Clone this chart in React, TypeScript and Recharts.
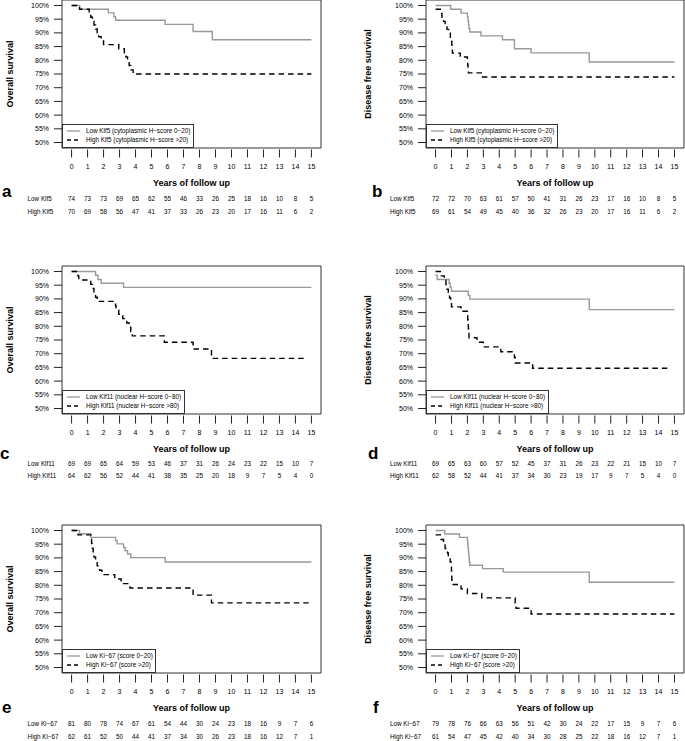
import React from "react";
import { LineChart, Line, XAxis, YAxis, ReferenceArea, Legend, Label } from "recharts";

const FONT = '"Liberation Sans", Arial, Helvetica, sans-serif';
const GREY = "#999999";

const years = [0, 1, 2, 3, 4, 5, 6, 7, 8, 9, 10, 11, 12, 13, 14, 15];
const survivalTicks = [50, 55, 60, 65, 70, 75, 80, 85, 90, 95, 100];

// Kaplan-Meier steps: [years, survival %]
const aLowSteps = [[0, 100], [0.5, 98.6], [2.3, 97.3], [2.65, 95.9], [2.75, 94.6], [5.85, 93.1], [7.6, 90.5], [8.8, 87.5], [15, 87.5]];
const aHighSteps = [[0, 100], [0.5, 98.6], [1.1, 97.1], [1.2, 95.7], [1.3, 94.3], [1.4, 92.9], [1.5, 91.4], [1.6, 90.0], [1.7, 88.6], [1.85, 87.1], [2.0, 85.7], [2.95, 84.2], [3.3, 82.7], [3.4, 81.2], [3.5, 79.6], [3.6, 78.1], [3.7, 76.5], [3.85, 75.0], [15, 75.0]];
const bLowSteps = [[0, 100], [0.95, 98.6], [1.6, 97.2], [2.0, 95.8], [2.04, 94.4], [2.07, 93.0], [2.1, 91.6], [2.15, 90.3], [2.85, 88.9], [4.2, 87.5], [4.95, 84.2], [6.0, 82.7], [9.65, 79.4], [15, 79.4]];
const bHighSteps = [[0, 98.6], [0.3, 97.1], [0.4, 95.7], [0.5, 94.2], [0.6, 92.8], [0.72, 91.3], [0.82, 89.9], [0.93, 88.4], [1.0, 87.0], [1.02, 85.5], [1.04, 84.1], [1.06, 82.6], [1.55, 81.2], [2.0, 79.7], [2.02, 78.3], [2.04, 76.8], [2.06, 75.4], [2.95, 73.9], [15, 73.9]];
const cLowSteps = [[0, 100], [1.5, 98.6], [1.65, 97.1], [1.85, 95.7], [3.25, 94.2], [15, 94.2]];
const cHighSteps = [[0, 100], [0.4, 98.4], [0.45, 96.9], [1.2, 95.3], [1.3, 93.8], [1.4, 92.2], [1.5, 90.6], [1.6, 89.1], [2.75, 87.5], [2.78, 85.9], [2.95, 84.4], [3.2, 82.8], [3.45, 81.2], [3.6, 79.7], [3.7, 78.1], [3.8, 76.5], [5.8, 74.2], [7.6, 71.7], [8.75, 68.3], [14.6, 68.3]];
const dLowSteps = [[0, 98.6], [0.1, 97.1], [0.85, 95.7], [0.92, 94.2], [1.0, 92.8], [2.05, 91.3], [2.15, 89.9], [9.65, 86.1], [15, 86.1]];
const dHighSteps = [[0, 100], [0.35, 98.4], [0.55, 96.8], [0.65, 95.2], [0.72, 93.5], [0.8, 91.9], [0.88, 90.3], [0.95, 88.7], [1.0, 87.1], [1.6, 85.5], [2.0, 83.9], [2.02, 82.3], [2.04, 80.6], [2.06, 79.0], [2.08, 77.4], [2.1, 75.8], [2.6, 74.2], [3.0, 72.5], [4.1, 70.7], [4.95, 68.7], [5.0, 66.6], [6.1, 64.7], [14.6, 64.7]];
const eLowSteps = [[0, 100], [0.5, 98.8], [1.2, 97.5], [2.75, 96.3], [2.85, 95.1], [3.25, 93.8], [3.35, 92.6], [3.5, 91.4], [3.7, 90.1], [5.85, 88.5], [15, 88.5]];
const eHighSteps = [[0, 100], [0.4, 98.4], [1.2, 96.8], [1.25, 95.2], [1.3, 93.5], [1.35, 91.9], [1.4, 90.3], [1.5, 88.7], [1.6, 87.1], [1.75, 85.5], [1.9, 83.9], [2.7, 82.3], [3.1, 80.6], [3.65, 79.0], [7.6, 76.4], [8.75, 73.6], [15, 73.6]];
const fLowSteps = [[0, 100], [0.58, 98.7], [1.5, 97.5], [2.0, 96.2], [2.02, 94.9], [2.04, 93.7], [2.06, 92.4], [2.08, 91.1], [2.1, 89.9], [2.12, 88.6], [2.15, 87.3], [2.95, 86.1], [4.25, 84.8], [9.65, 81.1], [15, 81.1]];
const fHighSteps = [[0, 98.4], [0.3, 96.7], [0.5, 95.1], [0.6, 93.4], [0.75, 91.8], [0.8, 90.2], [0.92, 88.5], [0.98, 86.9], [1.0, 85.2], [1.01, 83.6], [1.02, 82.0], [1.03, 80.3], [1.6, 78.7], [2.0, 77.0], [2.9, 75.4], [5.0, 73.5], [5.05, 71.6], [6.0, 69.5], [15, 69.5]];

// numbers at risk, one per year 0..15
const aLowRisk = [74, 73, 73, 69, 65, 62, 55, 46, 33, 26, 25, 18, 16, 10, 8, 5];
const aHighRisk = [70, 69, 58, 56, 47, 41, 37, 33, 26, 23, 20, 17, 16, 11, 6, 2];
const bLowRisk = [72, 72, 70, 63, 61, 57, 50, 41, 31, 26, 23, 17, 16, 10, 8, 5];
const bHighRisk = [69, 61, 54, 49, 45, 40, 36, 32, 26, 23, 20, 17, 16, 11, 6, 2];
const cLowRisk = [69, 69, 65, 64, 59, 53, 46, 37, 31, 26, 24, 23, 22, 15, 10, 7];
const cHighRisk = [64, 62, 56, 52, 44, 41, 38, 35, 25, 20, 18, 9, 7, 5, 4, 0];
const dLowRisk = [69, 65, 63, 60, 57, 52, 45, 37, 31, 26, 23, 22, 21, 15, 10, 7];
const dHighRisk = [62, 58, 52, 44, 41, 37, 34, 30, 23, 19, 17, 9, 7, 5, 4, 0];
const eLowRisk = [81, 80, 78, 74, 67, 61, 54, 44, 30, 24, 23, 18, 16, 9, 7, 6];
const eHighRisk = [62, 61, 52, 50, 44, 41, 37, 34, 30, 26, 23, 18, 16, 12, 7, 1];
const fLowRisk = [79, 78, 76, 66, 63, 56, 51, 42, 30, 24, 22, 17, 15, 9, 7, 6];
const fHighRisk = [61, 54, 47, 45, 42, 40, 34, 30, 28, 25, 22, 18, 16, 12, 7, 1];

const klf5Names = ["Low Klf5 (cytoplasmic H\u2212score 0\u221220)", "High Klf5 (cytoplasmic H\u2212score >20)"];
const klf11Names = ["Low Klf11 (nuclear H\u2212score 0\u221280)", "High Klf11 (nuclear H\u2212score >80)"];
const ki67Names = ["Low Ki\u221267 (score 0\u221220)", "High Ki\u221267 (score >20)"];
const klf5Rows = ["Low Klf5", "High Klf5"];
const klf11Rows = ["Low Klf11", "High Klf11"];
const ki67Rows = ["Low Ki\u221267", "High Ki\u221267"];

const toPoints = (steps: number[][]) => steps.map(([t, s]) => ({ t, s }));

const TOP = 10;
const PLOT_H = 148;
const AXIS_H = 75;
const Y_AXIS_W = 50;
const X_DOMAIN = [-0.6, 15.6];
const Y_DOMAIN = [48, 102];

const col1 = { left: 0, width: 340, mLeft: 12, mRight: 19, yLabelX: 10, rowDx: -44 };
const col2 = { left: 340, width: 345, mLeft: 36, mRight: 1, yLabelX: 28, rowDx: -45.5 };

const panels = [
  { ...col1, top: 0.2 - TOP, letter: "a", lx: 2, lb: 197, yLabel: "Overall survival", low: aLowSteps, high: aHighSteps, lowRisk: aLowRisk, highRisk: aHighRisk, names: klf5Names, rows: klf5Rows, legendW: 132, riskDy: [50.8, 63.8] },
  { ...col2, top: 0.2 - TOP, letter: "b", lx: 372, lb: 197, yLabel: "Disease free survival", low: bLowSteps, high: bHighSteps, lowRisk: bLowRisk, highRisk: bHighRisk, names: klf5Names, rows: klf5Rows, legendW: 132, riskDy: [50.8, 63.8] },
  { ...col1, top: 266.2 - TOP, letter: "c", lx: 0, lb: 459, yLabel: "Overall survival", low: cLowSteps, high: cHighSteps, lowRisk: cLowRisk, highRisk: cHighRisk, names: klf11Names, rows: klf11Rows, legendW: 123, riskDy: [49.8, 61.5] },
  { ...col2, top: 266.2 - TOP, letter: "d", lx: 368, lb: 459, yLabel: "Disease free survival", low: dLowSteps, high: dHighSteps, lowRisk: dLowRisk, highRisk: dHighRisk, names: klf11Names, rows: klf11Rows, legendW: 123, riskDy: [49.8, 61.5] },
  { ...col1, top: 525.2 - TOP, letter: "e", lx: 2, lb: 713, yLabel: "Overall survival", low: eLowSteps, high: eHighSteps, lowRisk: eLowRisk, highRisk: eHighRisk, names: ki67Names, rows: ki67Rows, legendW: 94, riskDy: [50.8, 63.8] },
  { ...col2, top: 525.2 - TOP, letter: "f", lx: 373, lb: 713, yLabel: "Disease free survival", low: fLowSteps, high: fHighSteps, lowRisk: fLowRisk, highRisk: fHighRisk, names: ki67Names, rows: ki67Rows, legendW: 94, riskDy: [50.8, 63.8] },
];

function FollowUpTick({ x, y, payload, panel }: any) {
  const i = years.indexOf(payload.value);
  const [r1, r2] = panel.riskDy;
  return (
    <g fontFamily={FONT}>
      <line x1={x} x2={x} y1={y + 1.5} y2={y + 9.5} stroke="#222" strokeWidth={1} />
      <text x={x} y={y + 19} dy="0.35em" textAnchor="middle" fontSize={7} fill="#000">
        {payload.value}
      </text>
      <text x={x} y={y + r1} dy="0.35em" textAnchor="middle" fontSize={6.3} fill="#000">
        {panel.lowRisk[i]}
      </text>
      <text x={x} y={y + r2} dy="0.35em" textAnchor="middle" fontSize={6.3} fill="#000">
        {panel.highRisk[i]}
      </text>
      {i === 0 && (
        <>
          <text x={x + panel.rowDx} y={y + r1} dy="0.35em" fontSize={6.3} fill="#000">
            {panel.rows[0]}
          </text>
          <text x={x + panel.rowDx} y={y + r2} dy="0.35em" fontSize={6.3} fill="#000">
            {panel.rows[1]}
          </text>
        </>
      )}
    </g>
  );
}

function KmLegend({ names, w }: { names: string[]; w: number }) {
  return (
    <div style={{ width: w, height: 24, border: "1px solid #333", boxSizing: "border-box", background: "#fff", position: "relative" }}>
      <svg width={w - 2} height={22} style={{ position: "absolute", left: 0, top: 0 }}>
        <line x1={4} x2={17} y1={6} y2={6} stroke={GREY} strokeWidth={1.3} />
        <line x1={4} x2={17} y1={15} y2={15} stroke="#000" strokeWidth={1.3} strokeDasharray="4 3" />
        <text x={23} y={6} dy="0.35em" fontSize={6.3} fontFamily={FONT} fill="#000">{names[0]}</text>
        <text x={23} y={15} dy="0.35em" fontSize={6.3} fontFamily={FONT} fill="#000">{names[1]}</text>
      </svg>
    </div>
  );
}

function KmPanel({ panel }: { panel: any }) {
  const plotLeft = panel.mLeft + Y_AXIS_W;
  const plotW = panel.width - plotLeft - panel.mRight;
  return (
    <div style={{ position: "absolute", left: panel.left, top: panel.top }}>
      <LineChart
        width={panel.width}
        height={TOP + PLOT_H + AXIS_H}
        margin={{ top: TOP, right: panel.mRight, bottom: 0, left: panel.mLeft }}
        style={{ fontFamily: FONT }}
      >
        <ReferenceArea x1={X_DOMAIN[0]} x2={X_DOMAIN[1]} y1={Y_DOMAIN[0]} y2={Y_DOMAIN[1]} fill="none" stroke="#333" strokeWidth={1} />
        <XAxis
          type="number"
          dataKey="t"
          domain={X_DOMAIN}
          ticks={years}
          interval={0}
          allowDataOverflow
          axisLine={false}
          tickLine={false}
          tickSize={0}
          tickMargin={0}
          height={AXIS_H}
          tick={(tp: any) => <FollowUpTick {...tp} panel={panel} />}
        >
          <Label
            content={() => (
              <text x={plotLeft + plotW / 2} y={TOP + PLOT_H + 34.5} dy="0.35em" textAnchor="middle" fontSize={9} fontWeight="bold" fontFamily={FONT} fill="#000">
                Years of follow up
              </text>
            )}
          />
        </XAxis>
        <YAxis
          type="number"
          domain={Y_DOMAIN}
          ticks={survivalTicks}
          interval={0}
          allowDataOverflow
          width={Y_AXIS_W}
          axisLine={false}
          tickSize={8}
          tickMargin={5}
          tickLine={{ stroke: "#222" }}
          tick={{ fontSize: 7, fill: "#000", fontFamily: FONT }}
          tickFormatter={(v: number) => `${v}%`}
        >
          <Label
            content={() => {
              const cy = TOP + PLOT_H / 2;
              return (
                <text
                  x={panel.yLabelX}
                  y={cy}
                  dy="0.35em"
                  transform={`rotate(-90, ${panel.yLabelX}, ${cy})`}
                  textAnchor="middle"
                  fontSize={9}
                  fontWeight="bold"
                  fontFamily={FONT}
                  fill="#000"
                >
                  {panel.yLabel}
                </text>
              );
            }}
          />
        </YAxis>
        <Legend
          layout="horizontal"
          verticalAlign="middle"
          align="center"
          wrapperStyle={{ left: plotLeft, top: TOP + PLOT_H - 24, width: panel.legendW, height: 24 }}
          content={() => <KmLegend names={panel.names} w={panel.legendW} />}
        />
        <Line
          data={toPoints(panel.low)}
          dataKey="s"
          name={panel.names[0]}
          type="stepAfter"
          stroke={GREY}
          strokeWidth={1.4}
          dot={false}
          activeDot={false}
          isAnimationActive={false}
        />
        <Line
          data={toPoints(panel.high)}
          dataKey="s"
          name={panel.names[1]}
          type="stepAfter"
          stroke="#000"
          strokeWidth={1.4}
          strokeDasharray="5.5 4"
          dot={false}
          activeDot={false}
          isAnimationActive={false}
        />
      </LineChart>
    </div>
  );
}

export default function App() {
  return (
    <div style={{ position: "absolute", left: 0, top: 0, width: 685, height: 741, overflow: "hidden", background: "#fff", fontFamily: FONT }}>
      {panels.map((p) => (
        <KmPanel key={p.letter} panel={p} />
      ))}
      {panels.map((p) => (
        <span
          key={"l" + p.letter}
          style={{ position: "absolute", left: p.lx, top: p.lb - 14.4, fontSize: 17, lineHeight: 1, fontWeight: "bold", fontFamily: FONT }}
        >
          {p.letter}
        </span>
      ))}
    </div>
  );
}
